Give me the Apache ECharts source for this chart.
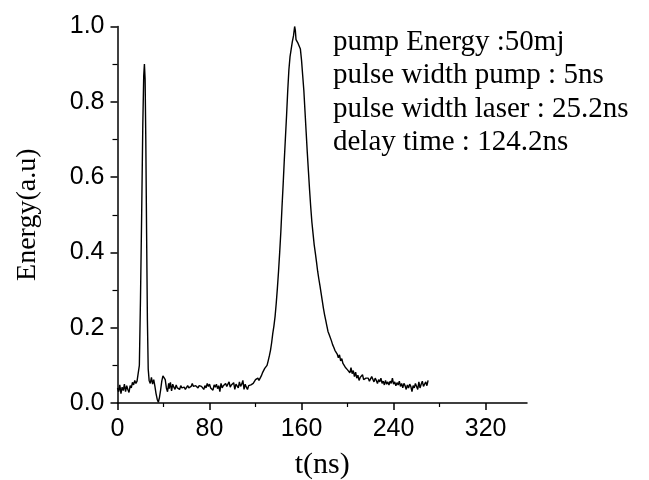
<!DOCTYPE html>
<html>
<head>
<meta charset="utf-8">
<script src="https://cdn.jsdelivr.net/npm/echarts@6/dist/echarts.min.js"></script>
<style>html,body{margin:0;padding:0;background:#fff;}#c{width:649px;height:480px;}</style>
</head>
<body>
<div id="c"></div>
<script>
// [time (ns), energy (a.u)]
const preBaseline = [[0,.040],[1,.030],[2,.048],[3,.025],[4,.042],[5,.033],[6,.050],[7,.030],[8,.046],[9,.036],[10,.028],[11,.046],[12,.040],[13,.055],[14,.048],[15,.060],[16,.052],[17,.058],[18,.062]];
const pumpPulse = [[19,.10],[20,.28],[21,.50],[22,.74],[22.8,.87],[23.4,.90],[24,.86],[24.6,.70],[25.3,.45],[26,.22],[26.7,.09],[27.5,.06],[28.5,.052],[29.5,.068],[30.5,.050],[31.5,.062],[32.5,.045],[33.5,.025],[34.5,.010],[35.5,.002],[36.5,.015],[37.5,.035],[38.5,.058],[39.5,.072],[40.5,.075],[41.5,.062],[42.5,.040],[43.5,.030],[44.5,.052]];
const midBaseline = [[45,.038],[46,.055],[47,.032],[48,.050],[49,.042],[50,.036],[51,.048],[52,.040],[53,.044],[54,.036],[55,.046],[56,.040],[57,.040],[58,.042],[59,.036],[60,.040],[61,.046],[62,.040],[63,.040],[64,.044],[65,.052],[66,.044],[67,.044],[68,.046],[69,.046],[70,.040],[71,.046],[72,.044],[73,.044],[74,.048],[75,.036],[76,.046],[77,.040],[78,.052],[79,.044],[80,.050],[81,.040],[82,.044],[83,.034],[84,.048],[85,.042],[86,.050],[87,.038],[88,.046],[89,.030],[90,.052],[91,.040],[92,.046],[93,.042],[94,.052],[95,.044],[96,.050],[97,.056],[98,.042],[99,.048],[100,.046],[101,.054],[102,.036],[103,.050],[104,.046],[105,.040],[106,.056],[107,.044],[108,.050],[109,.060],[110,.036],[111,.050],[112,.042],[113,.036],[114,.046],[115,.044],[116,.048],[117,.050],[118,.052]];
const laserRise = [[119,.055],[120,.062],[121,.058],[122,.066],[123,.060],[124,.064],[125,.072],[126,.080],[127,.078],[128,.092],[129,.090],[130,.100],[131,.112],[132,.125],[133,.140],[134,.160],[135,.185],[136,.205],[137,.230],[138,.265],[139,.305],[140,.350],[141,.400],[142,.455],[143,.520],[144,.580],[145,.645],[146,.705],[147,.765],[148,.830],[149,.885],[150,.920],[151,.940],[152,.960],[153,.975],[154,1.000],[154.6,.990],[155.2,.965],[156,.960],[157,.955],[158,.950],[159,.940]];
const laserFall = [[160,.910],[161,.870],[162,.830],[163,.775],[164,.720],[165,.665],[166,.615],[167,.565],[168,.520],[169,.480],[170,.450],[171,.420],[172,.398],[173,.375],[174,.350],[175,.330],[176,.312],[177,.292],[178,.272],[179,.252],[180,.235],[181,.220],[182,.205],[183,.190],[184,.182],[185,.178],[186,.165],[187,.155],[188,.148],[189,.140],[190,.136],[191,.130],[192,.120],[193,.128],[194,.112],[195,.118],[196,.105],[197,.110],[198,.095],[199,.100],[200,.088],[201,.092],[202,.080],[203,.094],[204,.078],[205,.086],[206,.070],[207,.082],[208,.066],[209,.074],[210,.060],[211,.068]];
const tailBaseline = [[212,.066],[213,.075],[214,.062],[215,.066],[216,.066],[217,.066],[218,.066],[219,.058],[220,.064],[221,.070],[222,.066],[223,.056],[224,.066],[225,.060],[226,.052],[227,.062],[228,.056],[229,.066],[230,.052],[231,.058],[232,.048],[233,.060],[234,.050],[235,.056],[236,.048],[237,.058],[238,.052],[239,.066],[240,.050],[241,.056],[242,.046],[243,.054],[244,.048],[245,.058],[246,.044],[247,.052],[248,.040],[249,.052],[250,.046],[251,.036],[252,.048],[253,.040],[254,.050],[255,.044],[256,.030],[257,.046],[258,.040],[259,.052],[260,.048],[261,.036],[262,.056],[263,.040],[264,.050],[265,.058],[266,.044],[267,.040],[268,.056],[269,.046],[270,.060]];

const xMajorTicks = [0, 80, 160, 240, 320];
const xMinorTicks = [40, 120, 200, 280];
const annotationLines = ['pump Energy :50mj', 'pulse width pump : 5ns', 'pulse width laser : 25.2ns', 'delay time : 124.2ns'];

const signal = [].concat(preBaseline, pumpPulse, midBaseline, laserRise, laserFall, tailBaseline);

const chart = echarts.init(document.getElementById('c'), null, {renderer: 'canvas'});
const axisFont = {fontFamily: 'Liberation Sans', fontSize: 25, color: '#000'};
chart.setOption({
  animation: false,
  backgroundColor: '#fff',
  grid: {left: 117.5, right: 122, top: 26.5, bottom: 77, containLabel: false, outerBoundsMode: 'none'},
  xAxis: [{
    type: 'value', min: 0, max: 356,
    name: 't(ns)', nameLocation: 'middle', nameGap: 47,
    nameTextStyle: {fontFamily: 'Liberation Serif', fontSize: 30, color: '#000'},
    axisLine: {show: true, onZero: false, lineStyle: {color: '#000', width: 1.5}},
    axisTick: {show: true, inside: false, length: 7, lineStyle: {color: '#000', width: 1.5}, customValues: xMajorTicks},
    axisLabel: Object.assign({margin: 14, customValues: xMajorTicks}, axisFont),
    splitLine: {show: false}
  }, {
    type: 'value', min: 0, max: 356, position: 'bottom', offset: 0,
    axisLine: {show: false},
    axisTick: {show: true, inside: false, length: 4, lineStyle: {color: '#000', width: 1.2}, customValues: xMinorTicks},
    axisLabel: {show: false},
    splitLine: {show: false}
  }],
  yAxis: {
    type: 'value', min: 0, max: 1, interval: 0.2,
    name: 'Energy(a.u)', nameLocation: 'middle', nameGap: 76,
    nameTextStyle: {fontFamily: 'Liberation Serif', fontSize: 28, color: '#000'},
    axisLine: {show: true, lineStyle: {color: '#000', width: 1.5}},
    axisTick: {show: true, inside: false, length: 7, lineStyle: {color: '#000', width: 1.5}},
    minorTick: {show: true, splitNumber: 2, length: 5, lineStyle: {color: '#000', width: 1.2}},
    axisLabel: Object.assign({margin: 13, formatter: v => v.toFixed(1)}, axisFont),
    splitLine: {show: false}
  },
  graphic: [{
    type: 'text', left: 333, top: 26,
    style: {text: annotationLines.join('\n'), fontFamily: 'Liberation Serif', fontSize: 29, lineHeight: 33.2, fill: '#000'}
  }],
  series: [{
    type: 'line', data: signal, xAxisIndex: 0, showSymbol: false, symbol: 'none',
    lineStyle: {color: '#000', width: 1.4}
  }]
});
</script>
</body>
</html>
